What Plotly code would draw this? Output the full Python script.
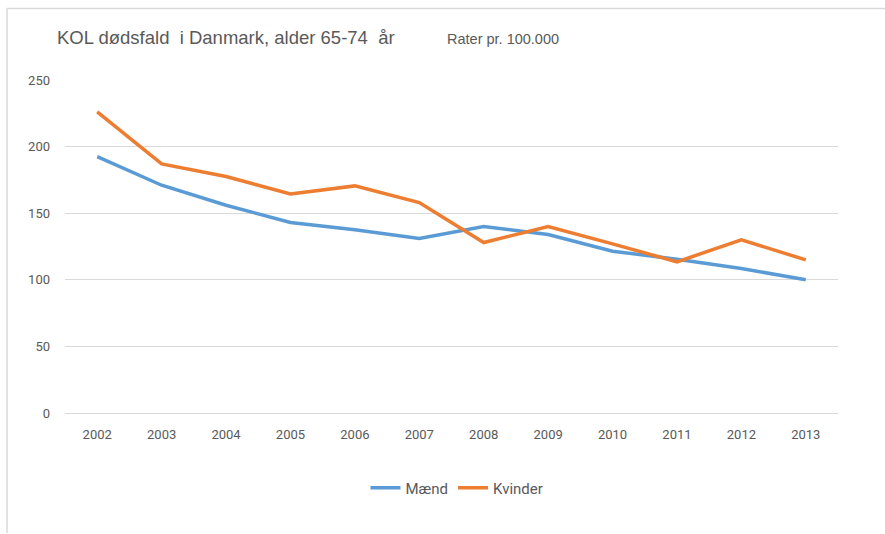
import plotly.graph_objects as go

# data (rates per 100.000)
years = ["2002", "2003", "2004", "2005", "2006", "2007",
         "2008", "2009", "2010", "2011", "2012", "2013"]
maend = [192.5, 171, 156, 143, 137.5, 131, 140, 134, 121.5, 115.5, 108.5, 100]
kvinder = [226, 187, 177.5, 164.5, 170.5, 158, 128, 140, 127, 113.5, 130, 115]
y_ticks = [0, 50, 100, 150, 200, 250]

W, H = 885, 534
ML, MR, MT, MB = 65, 47, 80, 121
FONT = "Roboto, Arial, sans-serif"
TITLE_FONT = "Liberation Sans, Arial, sans-serif"
GREY = "#595959"


def px(x):
    return (x - ML) / (W - ML - MR)


def py(y):
    return (H - MB - y) / (H - MT - MB)


fig = go.Figure()
fig.add_trace(go.Scatter(x=years, y=maend, name="Mænd", mode="lines",
                         line=dict(color="#5B9BD5", width=3.5)))
fig.add_trace(go.Scatter(x=years, y=kvinder, name="Kvinder", mode="lines",
                         line=dict(color="#ED7D31", width=3.5)))

fig.update_layout(
    width=W, height=H,
    margin=dict(l=ML, r=MR, t=MT, b=MB),
    paper_bgcolor="white", plot_bgcolor="white",
    font=dict(family=FONT, size=13, color=GREY),
    showlegend=True,
    legend=dict(orientation="h", x=px(457), xanchor="center", y=py(488), yanchor="middle",
                font=dict(size=15, color=GREY), tracegroupgap=0),
    xaxis=dict(type="category", range=[-0.5, 11.5], showgrid=False, zeroline=False,
               showline=False, ticks="", ticklabelstandoff=12,
               tickfont=dict(size=13, color=GREY)),
    yaxis=dict(range=[0, 250], tickvals=y_ticks, showgrid=True, gridcolor="#d9d9d9",
               gridwidth=1, zeroline=True, zerolinecolor="#d9d9d9", zerolinewidth=1,
               showline=False, ticks="",
               ticklabelstandoff=14, tickfont=dict(size=13, color=GREY)),
    annotations=[
        dict(text="KOL dødsfald  i Danmark, alder 65-74  år", xref="paper", yref="paper",
             x=px(55), y=py(38), xanchor="left", yanchor="middle", showarrow=False,
             font=dict(size=18.5, color=GREY, family=TITLE_FONT)),
        dict(text="Rater pr. 100.000", xref="paper", yref="paper",
             x=px(445), y=py(39), xanchor="left", yanchor="middle", showarrow=False,
             font=dict(size=14.5, color=GREY, family=TITLE_FONT)),
    ],
    shapes=[
        dict(type="line", xref="paper", yref="paper", x0=px(7), x1=px(885),
             y0=py(8.5), y1=py(8.5), line=dict(color="#d9d9d9", width=1.5)),
        dict(type="line", xref="paper", yref="paper", x0=px(7), x1=px(7),
             y0=py(8.5), y1=py(533), line=dict(color="#d9d9d9", width=1.5)),
    ],
)

# page body has a default 8px margin; drop it so the figure sits at the window origin
fig.write_html("out.html", config={"displayModeBar": False},
               post_script="document.body.style.margin='0';")
